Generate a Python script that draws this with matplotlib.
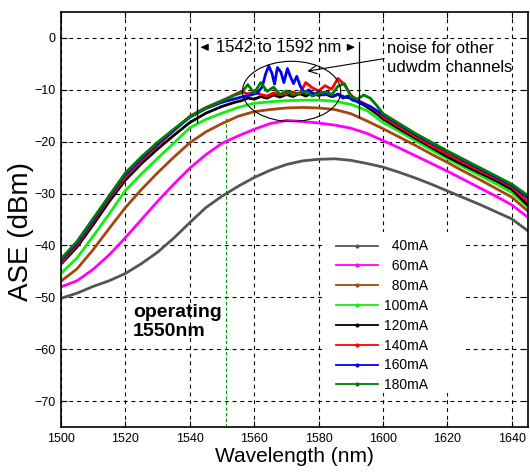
import matplotlib
matplotlib.use("Agg")
import matplotlib.pyplot as plt
from matplotlib.lines import Line2D
from matplotlib.patches import Ellipse, Rectangle

plt.rcParams['font.family'] = ['Liberation Sans', 'DejaVu Sans']

# ---------------- data ----------------
labels = ['40mA', '60mA', '80mA', '100mA', '120mA', '140mA', '160mA', '180mA']
colors = ['#555555', '#ff00ff', '#a5460f', '#11ee11', '#000000', '#ff0000', '#0000ff', '#007d00']

wl_smooth = [1500, 1505, 1510, 1515, 1520, 1525, 1530, 1535, 1540, 1545, 1550, 1555,
             1560, 1565, 1570, 1575, 1580, 1585, 1590, 1595, 1600, 1605, 1610, 1615,
             1620, 1625, 1630, 1635, 1640, 1645]

ase_40 = [-50.2, -49.2, -47.9, -46.8, -45.4, -43.5, -41.3, -38.6, -35.6, -32.7, -30.5, -28.6,
          -26.9, -25.5, -24.4, -23.7, -23.4, -23.3, -23.6, -24.2, -24.9, -25.9, -27.0, -28.2,
          -29.5, -30.8, -32.1, -33.5, -34.9, -37.2]
ase_60 = [-48.0, -46.8, -44.6, -41.8, -38.5, -35.0, -31.5, -28.2, -25.1, -22.5, -20.3, -18.9,
          -17.6, -16.5, -15.9, -16.1, -16.4, -16.8, -17.4, -18.4, -19.8, -21.2, -22.7, -24.2,
          -25.7, -27.3, -28.9, -30.5, -32.2, -34.6]
ase_80 = [-46.9, -44.5, -40.8, -36.7, -32.7, -29.2, -26.0, -23.0, -20.2, -18.1, -16.5, -15.1,
          -14.2, -13.8, -13.5, -13.4, -13.5, -13.8, -14.6, -16.0, -17.5, -19.1, -20.7, -22.4,
          -24.0, -25.7, -27.3, -29.0, -30.7, -33.4]
ase_100 = [-45.4, -42.4, -38.2, -33.9, -29.4, -26.2, -23.2, -20.3, -17.3, -15.7, -14.5, -13.4,
           -12.6, -12.3, -12.1, -12.0, -12.0, -12.2, -12.8, -14.0, -16.3, -18.0, -19.8, -21.6,
           -23.3, -24.9, -26.5, -28.1, -29.8, -32.6]

wl_hi = [1500, 1505, 1510, 1515, 1520, 1525, 1530, 1535, 1540, 1545, 1550,
         1552, 1554, 1556, 1558, 1560, 1562, 1564, 1566, 1568, 1570, 1572, 1574, 1576, 1578,
         1580, 1582, 1584, 1586, 1588, 1590, 1592, 1594, 1596, 1598,
         1600, 1605, 1610, 1615, 1620, 1625, 1630, 1635, 1640, 1645]

ase_120 = [-43.6, -40.3, -36.0, -31.5, -27.4, -24.2, -21.4, -18.8, -16.3, -14.5, -13.2,
           -12.8, -12.4, -12.1, -11.6, -11.8, -11.3, -11.6, -11.0, -11.4, -10.9, -11.3, -10.7, -11.2, -10.6,
           -11.1, -10.8, -11.3, -10.9, -11.4, -11.6, -12.3, -12.9, -13.7, -14.6,
           -15.6, -17.5, -19.3, -21.1, -22.9, -24.5, -26.0, -27.5, -29.2, -32.3]
ase_140 = [-43.3, -39.8, -35.4, -30.9, -26.8, -23.6, -20.7, -17.9, -15.1, -13.4, -12.1,
           -11.5, -10.9, -10.3, -10.8, -10.4, -10.9, -11.2, -10.6, -11.0, -10.7, -10.4, -10.9, -8.6, -9.6,
           -10.2, -9.2, -9.9, -7.8, -9.0, -11.0, -12.0, -12.6, -13.3, -14.1,
           -15.2, -17.1, -19.0, -20.8, -22.4, -24.0, -25.6, -27.1, -28.7, -31.6]
ase_180 = [-42.6, -39.2, -34.8, -30.4, -26.0, -22.9, -20.1, -17.6, -15.2, -13.5, -12.1,
           -11.6, -11.0, -10.6, -9.0, -10.6, -8.6, -10.3, -9.5, -10.9, -10.2, -11.0, -10.6, -10.3, -11.2,
           -10.7, -10.4, -11.0, -9.3, -8.8, -11.3, -11.8, -11.0, -11.6, -13.0,
           -14.6, -16.5, -18.4, -20.1, -21.8, -23.4, -25.0, -26.6, -28.2, -30.4]

wl_160 = [1500, 1505, 1510, 1515, 1520, 1525, 1530, 1535, 1540, 1545, 1550, 1553, 1556, 1559,
          1561, 1562.5, 1563.5, 1564.5, 1565.5, 1566.3, 1567.2, 1568.3, 1569.2, 1570.3, 1571.2,
          1572.2, 1573.2, 1574.3, 1575.5, 1577, 1578.5, 1580, 1581.5, 1583, 1584.5, 1586,
          1587.5, 1589, 1590.5, 1592, 1594, 1596, 1598, 1600, 1605, 1610, 1615, 1620, 1625,
          1630, 1635, 1640, 1645]
ase_160 = [-42.9, -39.5, -35.1, -30.6, -26.3, -23.2, -20.4, -17.8, -15.3, -13.6, -12.4, -11.9, -11.4, -11.0,
           -10.6, -9.4, -7.0, -5.4, -6.8, -8.9, -5.7, -6.6, -8.6, -5.9, -7.4,
           -8.8, -7.4, -9.3, -10.6, -10.0, -11.1, -10.3, -11.0, -10.5, -11.3, -10.8,
           -11.6, -11.2, -12.0, -12.2, -12.7, -13.2, -14.0, -14.8, -16.7, -18.6, -20.3, -21.9, -23.6,
           -25.2, -26.8, -28.4, -30.8]

series_x = [wl_smooth, wl_smooth, wl_smooth, wl_smooth, wl_hi, wl_hi, wl_160, wl_hi]
series_y = [ase_40, ase_60, ase_80, ase_100, ase_120, ase_140, ase_160, ase_180]

x_ticks = [1500, 1520, 1540, 1560, 1580, 1600, 1620, 1640]
y_ticks = [0, -10, -20, -30, -40, -50, -60, -70]

# ---------------- figure ----------------
fig = plt.figure(figsize=(5.30, 4.73), dpi=100)
ax = fig.add_axes([0.1151, 0.0973, 0.8811, 0.8773])

for xs, ys, c in zip(series_x, series_y, colors):
    ax.plot(xs, ys, color=c, lw=2.0, solid_joinstyle='round', zorder=2)

ax.set_xlim(1500, 1645)
ax.set_ylim(-75, 5)
ax.set_xticks(x_ticks)
ax.set_yticks(y_ticks)
ax.set_axisbelow(True)
ax.grid(True, color='black', lw=0.8, linestyle=(0, (3.5, 3.5)))
ax.tick_params(direction='in', top=True, right=True, length=4, width=0.8, labelsize=9, pad=4)
for s in ax.spines.values():
    s.set_linewidth(1.2)

ax.set_xlabel('Wavelength (nm)', fontsize=15, labelpad=2)
ax.set_ylabel('ASE (dBm)', fontsize=20)
ax.yaxis.set_label_coords(-0.058, 0.47)

# operating wavelength marker
ax.plot([1551.3, 1551.3], [-75, -15], color='#009900', lw=0.8, linestyle=(0, (3, 2)), zorder=1.5)
ax.text(1522.3, -54.7, 'operating\n1550nm', fontsize=14, fontweight='bold', ha='left', va='center',
        linespacing=1.15)

# range annotation
ax.plot([1542.2, 1542.2], [0, -16.3], color='black', lw=0.9)
ax.plot([1592.4, 1592.4], [-0.7, -15.3], color='black', lw=0.9)
ax.annotate('', xy=(1542.4, -1.8), xytext=(1546.3, -1.8),
            arrowprops=dict(arrowstyle='-|>,head_length=0.45,head_width=0.2', color='black', lw=0.9))
ax.annotate('', xy=(1592.2, -1.8), xytext=(1588.3, -1.8),
            arrowprops=dict(arrowstyle='-|>,head_length=0.45,head_width=0.2', color='black', lw=0.9))
ax.text(1567.5, -1.8, '1542 to 1592 nm', fontsize=12, ha='center', va='center')

# noise ellipse and label
ax.add_patch(Ellipse((1571.6, -10.3), 30.5, 11.6, fill=False, edgecolor='black', lw=0.8, zorder=5))
ax.annotate('noise for other\nudwdm channels', xy=(1576.5, -6.4), xytext=(1601.2, -3.9),
            fontsize=12, ha='left', va='center', linespacing=1.3,
            arrowprops=dict(arrowstyle='->,head_length=0.5,head_width=0.25', color='black', lw=0.8,
                            shrinkA=0, shrinkB=0, relpos=(0, 0.5)))

# legend background box (wider than the entries, as in the original)
ax.add_patch(Rectangle((0.559, 0.082), 0.308, 0.388, transform=ax.transAxes,
                       facecolor='white', edgecolor='none', zorder=2.5))

disp = ['  40mA', '  60mA', '  80mA', '100mA', '120mA', '140mA', '160mA', '180mA']
handles = [Line2D([0], [0], color=c, lw=1.3, marker='.', markersize=4) for c in colors]
leg = ax.legend(handles, disp, loc='upper right', bbox_to_anchor=(0.812, 0.482),
                fontsize=10, frameon=False,
                handlelength=3.0, handletextpad=0.4, labelspacing=0.42, borderpad=0.4,
                numpoints=1)
leg.set_zorder(10)

fig.savefig('out.png', dpi=100)
